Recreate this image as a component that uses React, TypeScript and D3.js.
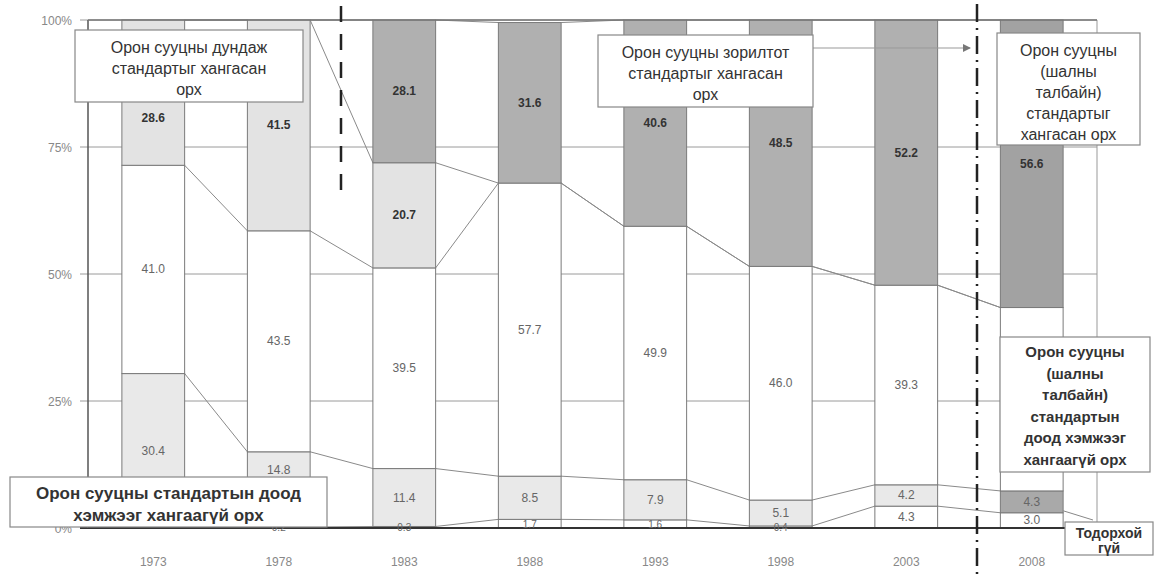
import React from "react";
import * as d3 from "d3";

const years = ["1973", "1978", "1983", "1988", "1993", "1998", "2003", "2008"];
const unknownShare = [0, 0.2, 0.3, 1.7, 1.6, 0.4, 4.3, 3.0];
const belowMinimum = [30.4, 14.8, 11.4, 8.5, 7.9, 5.1, 4.2, 4.3];
const partialStandard = [41.0, 43.5, 39.5, 57.7, 49.9, 46.0, 39.3, 36.1];
const averageStandard = [28.6, 41.5, 20.7, 0, 0, 0, 0, 0];
const targetStandard = [0, 0, 28.1, 31.6, 40.6, 48.5, 52.2, 56.6];
const yTicks = [0, 25, 50, 75, 100];

const seriesKeys = ["unknown", "below", "partial", "average", "target"];
const seriesValues = [unknownShare, belowMinimum, partialStandard, averageStandard, targetStandard];

const W = 1157, H = 577;
const left = 88, right = 1097, top = 20, bottom = 528;

type Box = { x: number; y: number; w: number; h: number; lines: string[]; cy: number; dy: number; size: number; weight?: string };
const boxes: Box[] = [
  { x: 75, y: 30, w: 228, h: 72, lines: ["Орон сууцны дундаж", "стандартыг хангасан", "орх"], cy: 47, dy: 21, size: 16 },
  { x: 598, y: 35, w: 215, h: 72, lines: ["Орон сууцны зорилтот", "стандартыг хангасан", "орх"], cy: 52, dy: 21, size: 16 },
  { x: 997, y: 33, w: 143, h: 112, lines: ["Орон сууцны", "(шалны", "талбайн)", "стандартыг", "хангасан орх"], cy: 50, dy: 21, size: 16 },
  { x: 1000, y: 337, w: 150, h: 135, lines: ["Орон сууцны", "(шалны", "талбайн)", "стандартын", "доод хэмжээг", "хангаагүй орх"], cy: 352, dy: 21.5, size: 15, weight: "bold" },
  { x: 10, y: 477, w: 317, h: 50, lines: ["Орон сууцны стандартын доод", "хэмжээг хангаагүй орх"], cy: 493, dy: 22, size: 17, weight: "bold" },
  { x: 1065, y: 522, w: 88, h: 33, lines: ["Тодорхой", "гүй"], cy: 533, dy: 15, size: 14, weight: "bold" },
];

const inside = (b: Box, px: number, py: number, pad = 0) =>
  px > b.x && px < b.x + b.w && py > b.y - pad && py < b.y + b.h + pad;

export default function App() {
  const x = d3.scaleBand<string>().domain(years).range([left, right]).paddingInner(0.5).paddingOuter(0.27);
  const y = d3.scaleLinear().domain([0, 100]).range([bottom, top]);
  const rows = years.map((yr, i) => {
    const r: any = { year: yr };
    seriesKeys.forEach((k, j) => (r[k] = seriesValues[j][i]));
    return r;
  });
  const stacked = d3.stack<any>().keys(seriesKeys)(rows);
  const bw = x.bandwidth();

  const fillFor = (k: string, yr: string) => {
    if (k === "unknown") return "#ffffff";
    if (k === "below") return yr === "2008" ? "#a9a9a9" : "#e9e9e9";
    if (k === "partial") return "#ffffff";
    if (k === "average") return "#e3e3e3";
    return yr === "2008" ? "#a2a2a2" : "#b0b0b0";
  };

  // returns label baseline, or null when the label would be hidden behind a note box
  const labelY = (lo: number, hi: number, xx: number): number | null => {
    let cy = y((lo + hi) / 2) + 4;
    const b1 = boxes[0], b5 = boxes[4];
    if (inside(b1, xx, cy, 12)) return b1.y + b1.h + 20;
    if (inside(b5, xx, cy, 4)) return b5.y - 3;
    for (const b of [boxes[1], boxes[2], boxes[3], boxes[5]]) if (inside(b, xx, cy, 4)) return null;
    return cy;
  };

  return (
    <svg width={W} height={H} style={{ display: "block", position: "absolute", left: 0, top: 0, background: "#fff" }} fontFamily="'Liberation Sans', Arial, sans-serif">
      {yTicks.map((t) => (
        <line key={"g" + t} x1={left - 8} x2={right} y1={y(t)} y2={y(t)} stroke={t === 0 ? "#333" : "#9a9a9a"} strokeWidth={t === 0 ? 2 : 1} />
      ))}
      <line x1={left} x2={left} y1={y(100)} y2={y(0)} stroke="#555" strokeWidth={1.5} />
      <line x1={right} x2={right} y1={y(100)} y2={y(0)} stroke="#999" strokeWidth={1} />
      {yTicks.map((t) => (
        <text key={"t" + t} x={left - 16} y={y(t) + 5} textAnchor="end" fontSize={12} fill="#888">{t + "%"}</text>
      ))}
      {stacked.map((s) =>
        years.slice(0, -1).map((yr, i) => (
          <line key={s.key + yr} x1={(x(yr) as number) + bw} x2={x(years[i + 1]) as number} y1={y(s[i][1])} y2={y(s[i + 1][1])} stroke="#8a8a8a" strokeWidth={1} />
        ))
      )}
      {stacked.map((s) =>
        s.map((d, i) => {
          const yr = years[i];
          const v = d[1] - d[0];
          if (v <= 0) return null;
          return (
            <rect key={s.key + yr} x={x(yr)} y={y(d[1])} width={bw} height={y(d[0]) - y(d[1])} fill={fillFor(s.key, yr)} stroke="#7a7a7a" strokeWidth={1} />
          );
        })
      )}
      <line x1={left} x2={right} y1={y(0)} y2={y(0)} stroke="#333" strokeWidth={2} />
      <line x1={left} x2={right} y1={y(100)} y2={y(100)} stroke="#777" strokeWidth={1.5} />
      {stacked.map((s) =>
        s.map((d, i) => {
          const yr = years[i];
          const v = d[1] - d[0];
          if (v <= 0) return null;
          const cx = (x(yr) as number) + bw / 2;
          const ly = labelY(d[0], d[1], cx);
          if (ly === null) return null;
          const dark = s.key === "target" || s.key === "average";
          return (
            <text key={"l" + s.key + yr} x={cx} y={ly} textAnchor="middle" fontSize={s.key === "unknown" && v < 2 ? 10 : 12}
              fontWeight={dark ? "bold" : "normal"} fill={dark ? "#333" : "#666"}>
              {v.toFixed(1)}
            </text>
          );
        })
      )}
      {years.map((yr) => (
        <text key={"x" + yr} x={(x(yr) as number) + bw / 2} y={566} textAnchor="middle" fontSize={12} fill="#888">{yr}</text>
      ))}
      <line x1={341} x2={341} y1={6} y2={198} stroke="#222" strokeWidth={2.5} strokeDasharray="16,12" />
      <line x1={977} x2={977} y1={4} y2={577} stroke="#222" strokeWidth={2.5} strokeDasharray="18,6,2,6" />
      <defs>
        <marker id="arr" markerWidth="8" markerHeight="8" refX="7" refY="4" orient="auto">
          <path d="M0,0 L8,4 L0,8 z" fill="#777" />
        </marker>
      </defs>
      <line x1={813} x2={970} y1={48} y2={48} stroke="#999" strokeWidth={1} markerEnd="url(#arr)" />
      <line x1={(x("2008") as number) + bw} x2={1093} y1={y(3.0) - 2} y2={520} stroke="#888" strokeWidth={1} />
      {boxes.map((b, i) => (
        <g key={"b" + i}>
          <rect x={b.x} y={b.y} width={b.w} height={b.h} fill="#fff" stroke="#888" strokeWidth={1.2} />
          {b.lines.map((ln, j) => (
            <text key={j} x={b.x + b.w / 2} y={b.cy + j * b.dy + b.size * 0.35} textAnchor="middle" fontSize={b.size} fontWeight={b.weight || "normal"} fill="#333">{ln}</text>
          ))}
        </g>
      ))}
    </svg>
  );
}
